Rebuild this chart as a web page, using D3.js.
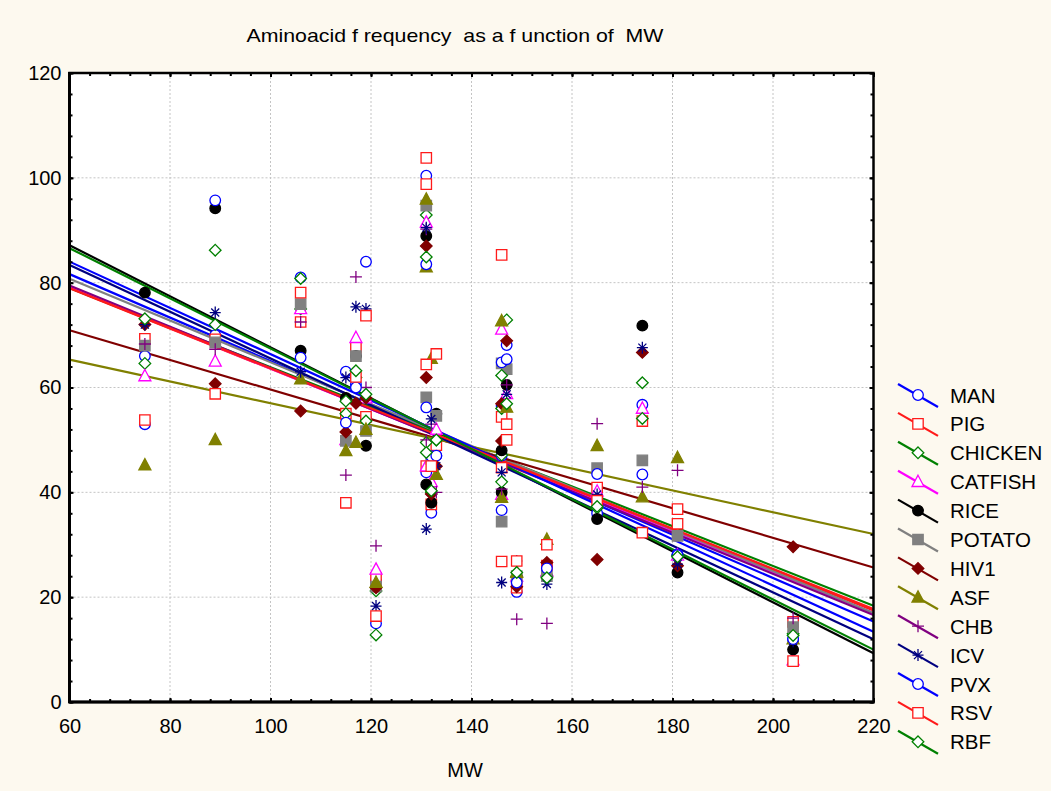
<!DOCTYPE html>
<html>
<head>
<meta charset="utf-8">
<script src="https://cdn.jsdelivr.net/npm/d3@7"></script>
<style>
body { margin: 0; background: #fdf9ef; }
text { font-family: Arial, "Liberation Sans", sans-serif; fill: #000; }
</style>
</head>
<body>
<svg id="svg1" width="1051" height="791"></svg>
<script>
// molecular weight of each amino acid (x values)
var aminoacids = ["Gly","Ala","Ser","Pro","Val","Thr","Cys","Leu","Ile","Asn","Asp","Gln","Lys","Glu","Met","His","Phe","Arg","Tyr","Trp"];
var mw = [75, 89, 106, 115, 117, 119, 121, 131, 131, 132, 133, 146, 146, 147, 149, 155, 165, 174, 181, 204];

// frequencies (per mille)
var MAN     = [66, 70, 81, 63, 60.6, 54, 23, 100.4, 43.8, 36.1, 47, 47, 56.5, 68.1, 21, 26, 36, 56.7, 28.2, 12];
var PIG     = [69.3, 69.2, 72.5, 55, 67.6, 54.4, 23.7, 98.8, 45, 37.7, 49, 44.7, 54.4, 53, 21.8, 26, 40.9, 53.6, 36.8, 15.3];
var CHICKEN = [64.6, 72, 75, 55, 61.9, 53.6, 21.2, 92.9, 49.5, 40, 50, 47.1, 56, 72.9, 24, 24, 37, 60.9, 28, 13];
var CATFISH = [62.2, 65, 75, 50, 69.5, 58, 25.3, 91.5, 45, 42, 52, 39.6, 71.1, 58.8, 24, 25, 40.2, 56, 28, 8];
var RICE    = [78.1, 94.2, 67, 58, 66, 48.9, 22, 88.9, 41.5, 38, 55, 40, 48, 60.5, 24, 24, 34.9, 71.8, 24.7, 10];
var POTATO  = [68, 68.6, 75.9, 49.8, 66, 51.7, 22, 94.7, 58.1, 46.4, 54.6, 34.4, 64.6, 63.5, 24, 24, 44.6, 46.1, 31.7, 14.3];
var HIV1    = [72, 60.7, 55.5, 51.5, 57, 58, 21.8, 87, 61.9, 39.7, 45, 49.8, 56.9, 68.9, 22, 26.6, 27.2, 66.7, 26, 29.6];
var ASF     = [45.2, 50, 61.6, 47.9, 49.5, 52, 22.8, 95.9, 83, 65.5, 43.4, 39, 72.7, 56.2, 24.7, 31, 48.9, 39.1, 46.6, 12];
var CHB     = [68.3, 67.3, 72.5, 43.3, 81.1, 60, 29.8, 90.2, 50, 53, 40, 40.6, 43.8, 60.5, 15.8, 15, 53.1, 41, 44.2, 16];
var ICV     = [72, 74.3, 63, 61.9, 75.4, 75, 18.3, 90.5, 33, 54, 45, 22.8, 43.8, 58.7, 26.9, 22.5, 39.6, 67.6, 26.3, 11.6];
var PVX     = [53, 95.7, 65.7, 53.3, 60, 84, 15, 83.5, 56.2, 46.9, 47, 36.6, 64.8, 65.4, 22.8, 25.5, 43.5, 43.4, 28, 12];
var RSV     = [53.8, 58.8, 78.1, 38, 62, 73.7, 16.4, 103.8, 64.4, 45, 66.4, 26.8, 85.3, 50, 26.9, 30, 38.4, 32.3, 34, 7.8];
var RBF     = [73.1, 86.2, 80.8, 57.4, 63.2, 58.7, 12.8, 84.9, 47.6, 40.3, 50, 42, 62.3, 56.9, 24.7, 23.7, 37.3, 54.1, 27.7, 12.7];

var seriesNames  = ["MAN","PIG","CHICKEN","CATFISH","RICE","POTATO","HIV1","ASF","CHB","ICV","PVX","RSV","RBF"];
var seriesValues = [MAN, PIG, CHICKEN, CATFISH, RICE, POTATO, HIV1, ASF, CHB, ICV, PVX, RSV, RBF];
var seriesColors = ["#0000ff","#ff1a1a","#008000","#ff00ff","#000000","#808080","#800000","#808000","#800080","#000080","#0000ff","#ff1a1a","#008000"];
var seriesMarkers = ["circle","square","diamond","triangle","circle","square","diamond","triangle","plus","star","circle","square","diamond"];
var seriesFilled  = [false,false,false,false,true,true,true,true,false,false,false,false,false];

var xTicks = [60, 80, 100, 120, 140, 160, 180, 200, 220];
var yTicks = [0, 20, 40, 60, 80, 100, 120];

var svg = d3.select("#svg1");
var x = d3.scaleLinear().domain([60, 220]).range([69.5, 873.5]);
var y = d3.scaleLinear().domain([0, 120]).range([702, 73]);

function markerPath(kind) {
  if (kind == "circle") return "M5.3,0A5.3,5.3 0 1,1 -5.3,0A5.3,5.3 0 1,1 5.3,0Z";
  if (kind == "square") return "M-5.2,-5.2H5.2V5.2H-5.2Z";
  if (kind == "diamond") return "M0,-5.8L5.8,0L0,5.8L-5.8,0Z";
  if (kind == "triangle") return "M0,-6.5L6,4.8L-6,4.8Z";
  if (kind == "plus") return "M-6,0H6M0,-6V6";
  return "M-5.5,0H5.5M0,-6V6M-4,-4L4,4M-4,4L4,-4";
}

function fit(vals) {
  var mx = d3.mean(mw), my = d3.mean(vals);
  var sxy = d3.sum(mw, function(v, i) { return (v - mx) * (vals[i] - my); });
  var sxx = d3.sum(mw, function(v) { return (v - mx) * (v - mx); });
  var b = sxy / sxx;
  return {b: b, a: my - b * mx};
}

function markerFill(i) {
  var k = seriesMarkers[i];
  if (k == "plus" || k == "star") return "none";
  return seriesFilled[i] ? seriesColors[i] : "#fff";
}

svg.append("rect").attr("width", 1051).attr("height", 791).attr("fill", "#fdf9ef");
svg.append("rect")
    .attr("x", x(60)).attr("y", y(120))
    .attr("width", x(220) - x(60)).attr("height", y(0) - y(120))
    .attr("fill", "#fff");

svg.append("defs").append("clipPath")
    .attr("id", "clip")
  .append("rect")
    .attr("x", x(60)).attr("y", y(120))
    .attr("width", x(220) - x(60)).attr("height", y(0) - y(120));

// grid
var grid = svg.append("g").attr("stroke", "#c4c4c4").attr("stroke-dasharray", "2,2").attr("stroke-width", 1);
grid.selectAll(".gx").data(xTicks.slice(1, -1)).enter().append("line")
    .attr("x1", function(d) { return x(d); }).attr("x2", function(d) { return x(d); })
    .attr("y1", y(120)).attr("y2", y(0));
grid.selectAll(".gy").data(yTicks.slice(1, -1)).enter().append("line")
    .attr("y1", function(d) { return y(d); }).attr("y2", function(d) { return y(d); })
    .attr("x1", x(60)).attr("x2", x(220));

// regression lines
var lines = svg.append("g").attr("clip-path", "url(#clip)");
seriesValues.forEach(function(vals, i) {
  var f = fit(vals);
  lines.append("line")
      .attr("x1", x(60)).attr("y1", y(f.a + f.b * 60))
      .attr("x2", x(220)).attr("y2", y(f.a + f.b * 220))
      .attr("stroke", seriesColors[i])
      .attr("stroke-width", 2.2);
});

// points
seriesValues.forEach(function(vals, i) {
  var g = svg.append("g").attr("class", "series");
  g.selectAll("path").data(vals).enter().append("path")
      .attr("transform", function(d, j) { return "translate(" + x(mw[j]) + "," + y(d) + ")"; })
      .attr("d", markerPath(seriesMarkers[i]))
      .attr("fill", markerFill(i))
      .attr("stroke", seriesColors[i])
      .attr("stroke-width", 1.3);
});

// frame
svg.append("rect")
    .attr("x", x(60)).attr("y", y(120))
    .attr("width", x(220) - x(60)).attr("height", y(0) - y(120))
    .attr("fill", "none").attr("stroke", "#000").attr("stroke-width", 2.5);

function styleAxis(g) {
  g.select(".domain").remove();
  g.selectAll("line").attr("stroke", "#000").attr("stroke-width", 2);
  g.attr("font-size", 20).attr("font-family", "Arial, 'Liberation Sans', sans-serif");
}

var minorX = d3.range(60, 221, 4), minorY = d3.range(0, 121, 4);

svg.append("g").attr("transform", "translate(0," + y(0) + ")")
    .call(d3.axisBottom(x).tickValues(minorX).tickSize(-3).tickFormat("")).call(styleAxis);
svg.append("g").attr("transform", "translate(0," + y(0) + ")")
    .call(d3.axisBottom(x).tickValues(xTicks).tickSize(-4).tickSizeOuter(0).tickPadding(17)).call(styleAxis);
svg.append("g").attr("transform", "translate(0," + y(120) + ")")
    .call(d3.axisTop(x).tickValues(minorX).tickSize(-3).tickFormat("")).call(styleAxis);
svg.append("g").attr("transform", "translate(0," + y(120) + ")")
    .call(d3.axisTop(x).tickValues(xTicks).tickSize(-4).tickFormat("")).call(styleAxis);

svg.append("g").attr("transform", "translate(" + x(60) + ",0)")
    .call(d3.axisLeft(y).tickValues(minorY).tickSize(-3).tickFormat("")).call(styleAxis);
svg.append("g").attr("transform", "translate(" + x(60) + ",0)")
    .call(d3.axisLeft(y).tickValues(yTicks).tickSize(-4).tickPadding(8)).call(styleAxis);
svg.append("g").attr("transform", "translate(" + x(220) + ",0)")
    .call(d3.axisRight(y).tickValues(minorY).tickSize(-3).tickFormat("")).call(styleAxis);
svg.append("g").attr("transform", "translate(" + x(220) + ",0)")
    .call(d3.axisRight(y).tickValues(yTicks).tickSize(-4).tickFormat("")).call(styleAxis);

// thicker left/bottom axis lines
svg.append("line").attr("x1", x(60)).attr("x2", x(60)).attr("y1", y(120) - 1).attr("y2", y(0) + 1)
    .attr("stroke", "#000").attr("stroke-width", 3);
svg.append("line").attr("x1", x(60) - 1).attr("x2", x(220) + 1).attr("y1", y(0)).attr("y2", y(0))
    .attr("stroke", "#000").attr("stroke-width", 3);

// title and axis label
svg.append("text")
    .attr("x", 455).attr("y", 42)
    .attr("text-anchor", "middle")
    .attr("font-size", 19)
    .style("white-space", "pre")
    .attr("textLength", 417).attr("lengthAdjust", "spacingAndGlyphs")
    .text("Aminoacid f requency  as a f unction of  MW");

svg.append("text")
    .attr("x", 465).attr("y", 777)
    .attr("text-anchor", "middle")
    .attr("font-size", 20)
    .text("MW");

// legend
var legend = svg.append("g").attr("transform", "translate(0,395)");
seriesNames.forEach(function(name, i) {
  var row = legend.append("g").attr("transform", "translate(0," + (i * 28.9) + ")");
  row.append("line")
      .attr("x1", 898).attr("y1", -11).attr("x2", 938).attr("y2", 12)
      .attr("stroke", seriesColors[i]).attr("stroke-width", 2.2);
  row.append("path")
      .attr("transform", "translate(918,0)")
      .attr("d", markerPath(seriesMarkers[i]))
      .attr("fill", markerFill(i))
      .attr("stroke", seriesColors[i]).attr("stroke-width", 1.3);
  row.append("text")
      .attr("x", 950).attr("y", 7.5)
      .attr("font-size", 20.5)
      .text(name);
});
</script>
</body>
</html>
